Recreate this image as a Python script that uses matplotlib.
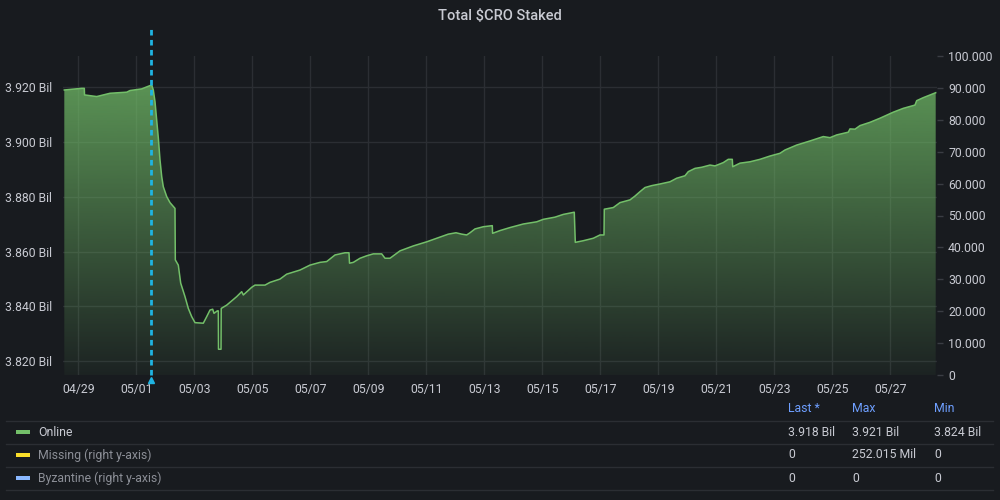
import matplotlib
matplotlib.use("Agg")
import matplotlib.pyplot as plt
import matplotlib.transforms as mtransforms
from matplotlib.patches import Polygon, Rectangle
from matplotlib.lines import Line2D
from matplotlib.colors import to_rgb
import numpy as np

plt.rcParams['font.family'] = ['Roboto', 'DejaVu Sans']

# days since 04/29 00:00
days = [-0.483, 0.117, 0.207, 0.214, 0.634, 1.093, 1.669, 1.783, 2.186, 2.448,
        2.531, 2.586, 2.645, 2.703, 2.759, 2.817, 2.876, 2.931, 3.048, 3.162,
        3.334, 3.345, 3.448, 3.531, 3.679, 3.793, 3.910, 4.024, 4.310, 4.428,
        4.541, 4.634, 4.679, 4.793, 4.828, 4.834, 4.921, 4.928, 5.117, 5.462,
        5.634, 5.690, 5.979, 6.093, 6.438, 6.610, 6.955, 7.186, 7.645, 7.990,
        8.334, 8.566, 8.852, 9.197, 9.334, 9.352, 9.483, 9.714, 9.945, 10.172,
        10.462, 10.576, 10.748, 11.093, 11.552, 12.014, 12.359, 12.759, 13.024, 13.221,
        13.393, 13.507, 13.679, 13.966, 14.276, 14.286, 14.541, 14.886, 15.345, 15.807,
        16.034, 16.438, 16.724, 17.103, 17.138, 17.414, 17.759, 17.990, 18.128, 18.138,
        18.448, 18.679, 19.024, 19.197, 19.369, 19.541, 19.772, 20.059, 20.403, 20.634,
        20.921, 21.034, 21.266, 21.497, 21.783, 21.955, 22.241, 22.414, 22.552, 22.566,
        22.817, 23.162, 23.507, 23.852, 24.197, 24.369, 24.772, 25.231, 25.690, 25.921,
        26.152, 26.552, 26.610, 26.783, 26.955, 27.300, 27.645, 28.103, 28.448, 28.852,
        28.910, 29.138, 29.566]

# Online stake, millions of CRO
online = [3919.0, 3919.6, 3919.6, 3917.2, 3916.6, 3917.8, 3918.2, 3918.8, 3919.4, 3920.5,
          3920.8, 3919.0, 3914.7, 3908.1, 3901.5, 3893.5, 3887.4, 3883.7, 3880.1, 3877.9,
          3875.8, 3857.0, 3855.1, 3848.5, 3843.6, 3839.3, 3836.3, 3834.1, 3833.9, 3836.3,
          3838.7, 3839.0, 3837.5, 3838.4, 3838.4, 3824.4, 3824.4, 3839.3, 3840.5, 3843.6,
          3845.4, 3844.2, 3847.0, 3847.8, 3847.8, 3848.8, 3850.0, 3851.8, 3853.3, 3855.1,
          3856.1, 3856.4, 3858.8, 3859.6, 3859.6, 3855.8, 3856.1, 3857.6, 3858.5, 3859.2,
          3859.2, 3857.6, 3857.6, 3860.3, 3862.1, 3863.6, 3864.9, 3866.4, 3866.9, 3866.4,
          3866.1, 3866.9, 3868.3, 3869.1, 3869.5, 3866.7, 3867.7, 3868.8, 3870.1, 3870.9,
          3871.8, 3872.6, 3873.6, 3874.4, 3863.4, 3864.0, 3864.9, 3866.1, 3866.1, 3875.5,
          3876.1, 3877.9, 3878.9, 3880.3, 3881.9, 3883.4, 3884.1, 3884.7, 3885.5, 3886.8,
          3887.7, 3889.2, 3890.4, 3890.8, 3891.6, 3891.3, 3892.5, 3893.7, 3893.7, 3891.0,
          3892.3, 3892.8, 3893.7, 3894.9, 3895.9, 3897.1, 3898.9, 3900.4, 3902.0, 3901.6,
          3902.6, 3903.6, 3904.8, 3904.7, 3906.0, 3907.2, 3908.7, 3910.9, 3912.3, 3913.5,
          3915.1, 3916.2, 3918.0]

tick_days = list(range(0, 29, 2))
tick_labels = ['04/29', '05/01', '05/03', '05/05', '05/07', '05/09', '05/11', '05/13',
               '05/15', '05/17', '05/19', '05/21', '05/23', '05/25', '05/27']
left_ticks = [3820, 3840, 3860, 3880, 3900, 3920]
right_ticks = list(range(0, 101, 10))
annotation_day = 2.507

legend_names = ['Online', 'Missing (right y-axis)', 'Byzantine (right y-axis)']
legend_colors = ['#73bf69', '#fade2a', '#8ab8ff']
legend_last = ['3.918 Bil', '0', '0']
legend_max = ['3.921 Bil', '252.015 Mil', '0']
legend_min = ['3.824 Bil', '0', '0']

BG = '#181b1f'
TXT = '#c8cad2'
GRID = '#2b2e33'
GREEN = '#73bf69'
CYAN = '#1fb4e2'

fig = plt.figure(figsize=(10, 5), dpi=100, facecolor=BG)
ax = fig.add_axes([0.063, 0.25, 0.874, 0.638])
ax.set_facecolor(BG)

x0, x1 = -0.528, 29.611
y0, y1 = 3815.0, 3931.4

# gradient fill under the line
grad = np.zeros((256, 1, 4))
grad[:, 0, :3] = to_rgb(GREEN)
grad[:, 0, 3] = np.linspace(0.8, 0.05, 256)
poly = Polygon([(days[0], y0)] + list(zip(days, online)) + [(days[-1], y0)],
               closed=True, facecolor='none', edgecolor='none')
ax.add_patch(poly)
im = ax.imshow(grad, extent=[x0, x1, y0, y1], aspect='auto', origin='upper', zorder=1)
im.set_clip_path(poly)
ax.plot(days, online, color=GREEN, lw=1.1, zorder=3)

ax.set_xlim(x0, x1)
ax.set_ylim(y0, y1)
ax.set_xticks(tick_days)
ax.set_xticklabels(tick_labels)
ax.set_yticks(left_ticks)
ax.set_yticklabels([f'{v / 1000:.3f} Bil' for v in left_ticks])
ax.tick_params(axis='both', length=0, colors=TXT, labelsize=8.8)
ax.tick_params(axis='x', pad=6)
ax.tick_params(axis='y', pad=8)
ax.grid(color=GRID, lw=1)
ax.set_axisbelow(True)
for s in ax.spines.values():
    s.set_visible(False)

ax2 = ax.twinx()
ax2.set_ylim(0, 100)
ax2.set_yticks(right_ticks)
ax2.set_yticklabels(['0'] + [f'{v}.000' for v in right_ticks[1:]])
ax2.tick_params(axis='y', length=4, width=1, color='#3a3d43', colors=TXT, labelsize=8.8, pad=4)
ax2.tick_params(axis='y', colors='#3a3d43', labelcolor=TXT)
for s in ax2.spines.values():
    s.set_visible(False)

# annotation marker
ax.axvline(annotation_day, ymin=0, ymax=1.088, color=CYAN, lw=2.0,
           ls=(0, (2.0, 1.6)), clip_on=False, zorder=4)
trans = mtransforms.blended_transform_factory(ax.transData, ax.transAxes)
ax.plot([annotation_day], [-0.017], marker='^', ms=5, color=CYAN,
        transform=trans, clip_on=False, zorder=5)

fig.text(0.5, 1 - 16 / 500, 'Total \\$CRO Staked', ha='center', va='center',
         color=TXT, fontsize=10.5, fontweight='medium')

# legend table
def fy(py):
    return 1 - py / 500

HEAD = '#6e9fff'
cols = [788 / 1000, 852 / 1000, 934 / 1000]
for cx, h in zip(cols, ['Last *', 'Max', 'Min']):
    fig.text(cx, fy(409), h, ha='left', va='center', color=HEAD, fontsize=8.8)
for py in [421, 444, 467, 490]:
    fig.add_artist(Line2D([0.006, 0.993], [fy(py), fy(py)], color=GRID, lw=1,
                          transform=fig.transFigure))
row_y = [432, 455, 478]
for i, name in enumerate(legend_names):
    yy = fy(row_y[i])
    fig.add_artist(Rectangle((0.016, yy - 2 / 500), 0.014, 4 / 500,
                             facecolor=legend_colors[i], edgecolor='none',
                             transform=fig.transFigure))
    fig.text(0.038, yy, name, ha='left', va='center',
             color=TXT if i == 0 else '#8c8f97', fontsize=8.8)
    for cx, val in zip(cols, [legend_last[i], legend_max[i], legend_min[i]]):
        fig.text(cx, yy, val, ha='left', va='center', color=TXT, fontsize=8.8)

fig.savefig('out.png', dpi=100, facecolor=BG)
